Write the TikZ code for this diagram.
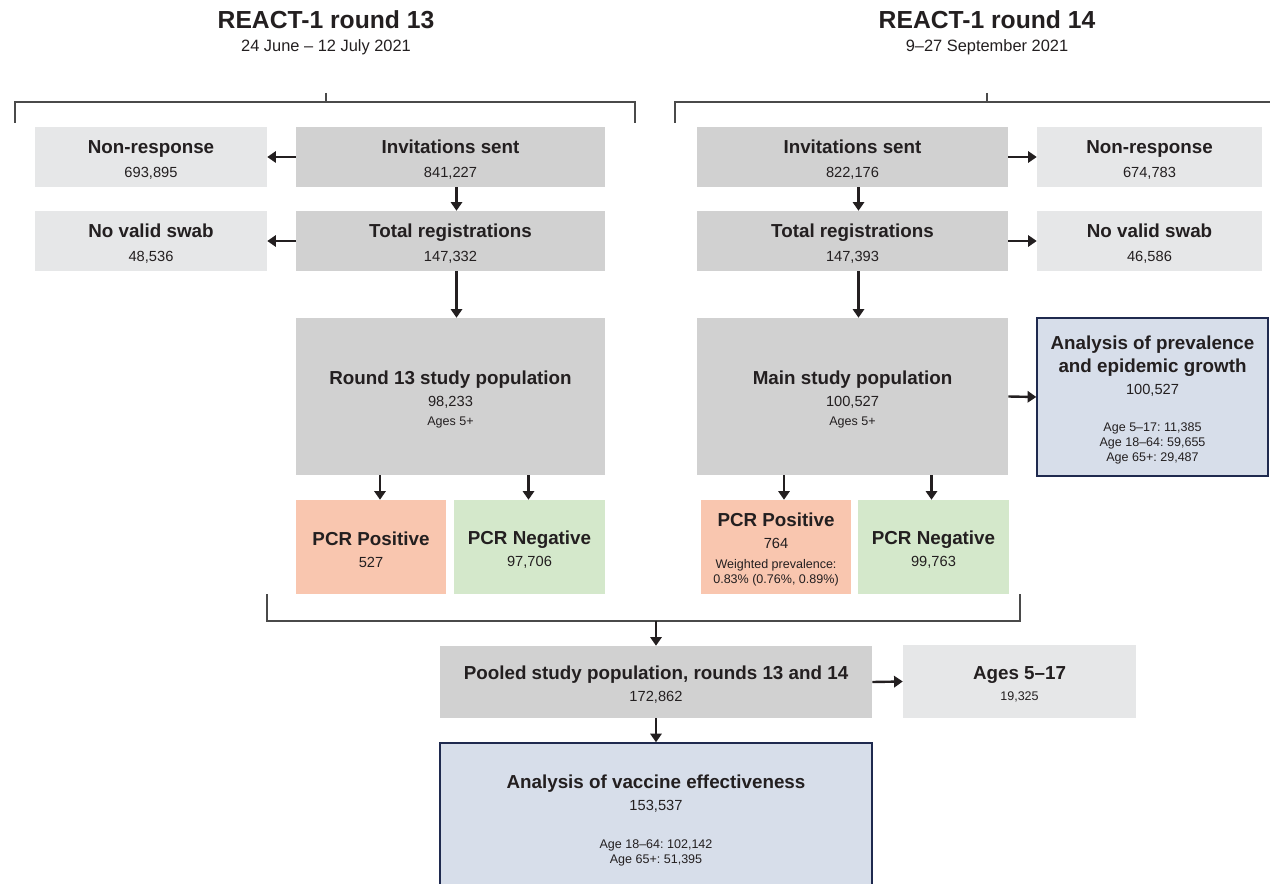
\documentclass[tikz,border=0pt]{standalone}
\usepackage{fontspec}
\setmainfont{Liberation Sans}
\frenchspacing
\usetikzlibrary{arrows.meta,calc}
\definecolor{txt}{HTML}{231F20}
\definecolor{dkgray}{HTML}{D1D1D1}
\definecolor{ltgray}{HTML}{E6E7E8}
\definecolor{posc}{HTML}{F9C6AF}
\definecolor{negc}{HTML}{D4E8CB}
\definecolor{anac}{HTML}{D7DEEA}
\definecolor{anab}{HTML}{1F2A4F}
\definecolor{brc}{HTML}{4A4A4A}
\newcommand\bt[1]{{\fontsize{14.1}{16.5}\selectfont\bfseries #1}}
\newcommand\smt[1]{{\fontsize{9.4}{16.5}\selectfont #1}}
\newcommand\tp{\mbox{}\\[-2.4pt]}
\tikzset{
 base/.style={rectangle, inner sep=0pt, align=center, text=txt, font=\fontsize{11}{16.5}\selectfont\frenchspacing},
 dk/.style={base, fill=dkgray},
 lt/.style={base, fill=ltgray},
 posbox/.style={base, fill=posc},
 negbox/.style={base, fill=negc},
 ana/.style={base, fill=anac, draw=anab, line width=1.1pt},
 sz/.style 2 args={minimum width=#1*0.75pt, minimum height=#2*0.75pt},
 arr/.style={-{Triangle[length=6.5pt,width=8.5pt]}, line width=1.8pt, draw=txt},
 brk/.style={line width=0.9pt, draw=brc},
 ttl/.style={text=txt, font=\fontsize{18.5}{22}\selectfont\bfseries, inner sep=0pt},
 sub/.style={text=txt, font=\fontsize{12.3}{15}\selectfont, inner sep=0pt},
}
\begin{document}
\begin{tikzpicture}[x=0.75pt,y=-0.75pt]
\clip (0,0) rectangle (1270,884);
\fill[white] (0,0) rectangle (1270,884);

% titles
\node[ttl] (t1) at (326,20) {REACT-1 round 13};
\node[sub] (s1) at (326,47) {24 June – 12 July 2021};
\node[ttl] (t2) at (987,20) {REACT-1 round 14};
\node[sub] (s2) at (987,47) {9–27 September 2021};

% brackets
\draw[brk] (15,123) -- (15,102) -- (635,102) -- (635,123);
\draw[brk] (326,93) -- (326,102);
\draw[brk] (675,123) -- (675,102) -- (1275,102);
\draw[brk] (987,93) -- (987,102);
\draw[brk] (267,594) -- (267,621) -- (1020,621) -- (1020,594);
\coordinate (bm) at (656,621);

% left column (round 13)
\node[lt, sz={232}{60}] (nr1) at (151,157) {\tp\bt{Non-response}\\[1.5pt]693,895};
\node[dk, sz={309}{60}] (inv1) at (450.5,157) {\tp\bt{Invitations sent}\\[1.5pt]841,227};
\node[lt, sz={232}{60}] (nv1) at (151,241) {\tp\bt{No valid swab}\\[1.5pt]48,536};
\node[dk, sz={309}{60}] (reg1) at (450.5,241) {\tp\bt{Total registrations}\\[1.5pt]147,332};
\node[dk, sz={309}{157}] (sp1) at (450.5,396.5) {\tp\bt{Round 13 study population}\\98,233\\[-2.25pt]\smt{Ages 5+}};
\node[posbox, sz={150}{94}] (pp1) at (371,547) {\tp\bt{PCR Positive}\\527};
\node[negbox, sz={151}{94}] (pn1) at (529.5,547) {\tp\bt{PCR Negative}\\97,706};

% right column (round 14)
\node[dk, sz={311}{60}] (inv2) at (852.5,157) {\tp\bt{Invitations sent}\\[1.5pt]822,176};
\node[lt, sz={225}{60}] (nr2) at (1149.5,157) {\tp\bt{Non-response}\\[1.5pt]674,783};
\node[dk, sz={311}{60}] (reg2) at (852.5,241) {\tp\bt{Total registrations}\\[1.5pt]147,393};
\node[lt, sz={225}{60}] (nv2) at (1149.5,241) {\tp\bt{No valid swab}\\[1.5pt]46,586};
\node[dk, sz={311}{157}] (sp2) at (852.5,396.5) {\tp\bt{Main study population}\\100,527\\[-2.25pt]\smt{Ages 5+}};
\node[ana, sz={231}{158}] (ap) at (1152.5,397) {\tp\bt{Analysis of prevalence}\\[0.75pt]\bt{and epidemic growth}\\100,527\\[11.8pt]\smt{Age 5–17: 11,385}\\[-5.6pt]\smt{Age 18–64: 59,655}\\[-5.3pt]\smt{Age 65+: 29,487}};
\node[posbox, sz={150}{94}] (pp2) at (776,547) {\tp\bt{PCR Positive}\\764\\[-1.5pt]\smt{Weighted prevalence:}\\[-5.5pt]\smt{0.83\% (0.76\%, 0.89\%)}};
\node[negbox, sz={151}{94}] (pn2) at (933.5,547) {\tp\bt{PCR Negative}\\99,763};

% pooled
\node[dk, sz={432}{72}] (pool) at (656,682) {\tp\bt{Pooled study population, rounds 13 and 14}\\172,862};
\node[lt, sz={233}{73}] (age) at (1019.5,681.5) {\tp\bt{Ages 5–17}\\[-0.5pt]\smt{19,325}};
\node[ana, sz={432}{150}] (ve) at (656,818) {\tp\bt{Analysis of vaccine effectiveness}\\153,537\\[12pt]\smt{Age 18–64: 102,142}\\[-5pt]\smt{Age 65+: 51,395}};

% arrows left
\draw[arr] (inv1.west) -- (nr1.east);
\draw[arr] (reg1.west) -- (nv1.east);
\draw[arr] ($(inv1.south)+(6,0)$) -- ($(reg1.north)+(6,0)$);
\draw[arr] ($(reg1.south)+(6,0)$) -- ($(sp1.north)+(6,0)$);
\draw[arr] ($(pp1.north |- sp1.south)+(9,0)$) -- ($(pp1.north)+(9,0)$);
\draw[arr] ($(pn1.north |- sp1.south)+(-1,0)$) -- ($(pn1.north)+(-1,0)$);

% arrows right
\draw[arr] (inv2.east) -- (nr2.west);
\draw[arr] (reg2.east) -- (nv2.west);
\draw[arr] ($(inv2.south)+(6,0)$) -- ($(reg2.north)+(6,0)$);
\draw[arr] ($(reg2.south)+(6,0)$) -- ($(sp2.north)+(6,0)$);
\draw[arr] ($(pp2.north |- sp2.south)+(8,0)$) -- ($(pp2.north)+(8,0)$);
\draw[arr] ($(pn2.north |- sp2.south)+(-2,0)$) -- ($(pn2.north)+(-2,0)$);
\draw[arr] (sp2.east) -- (ap.west);

% pooled arrows
\draw[arr] (bm) -- (pool.north);
\draw[arr] (pool.east) -- (age.west);
\draw[arr] (pool.south) -- (ve.north);
\end{tikzpicture}
\end{document}
